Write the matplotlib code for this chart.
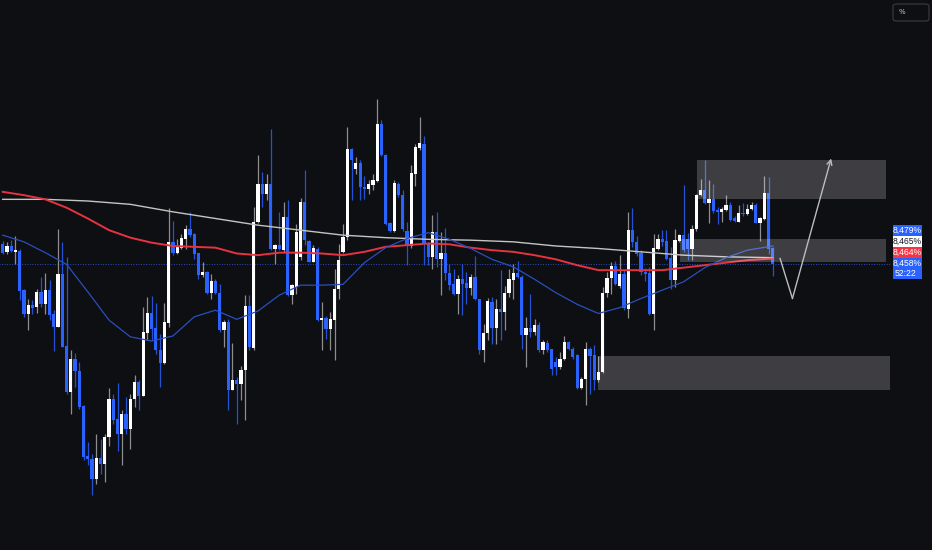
import matplotlib
matplotlib.use("Agg")
import matplotlib.pyplot as plt
from matplotlib.patches import Rectangle, FancyBboxPatch
import numpy as np

W, H = 932, 550

# candles, oldest first (yield in %)
opens = [8.482, 8.472, 8.479, 8.472, 8.473, 8.426, 8.397, 8.408, 8.406, 8.424,
         8.409, 8.426, 8.397, 8.382, 8.445, 8.359, 8.304, 8.343, 8.329, 8.287,
         8.227, 8.224, 8.199, 8.225, 8.218, 8.250, 8.296, 8.271, 8.253, 8.277,
         8.259, 8.296, 8.316, 8.299, 8.375, 8.399, 8.380, 8.354, 8.339, 8.387,
         8.484, 8.471, 8.477, 8.488, 8.500, 8.494, 8.471, 8.444, 8.448, 8.423,
         8.437, 8.423, 8.378, 8.388, 8.306, 8.318, 8.314, 8.330, 8.407, 8.357,
         8.508, 8.553, 8.541, 8.553, 8.475, 8.480, 8.474, 8.514, 8.420, 8.430,
         8.466, 8.532, 8.485, 8.460, 8.476, 8.390, 8.393, 8.380, 8.390, 8.428,
         8.472, 8.490, 8.595, 8.572, 8.579, 8.550, 8.547, 8.552, 8.557, 8.626,
         8.588, 8.506, 8.497, 8.554, 8.540, 8.497, 8.479, 8.566, 8.597, 8.602,
         8.483, 8.466, 8.496, 8.463, 8.471, 8.447, 8.434, 8.422, 8.440, 8.435,
         8.429, 8.442, 8.415, 8.354, 8.375, 8.412, 8.381, 8.404, 8.400, 8.423,
         8.438, 8.447, 8.442, 8.372, 8.380, 8.376, 8.384, 8.354, 8.363, 8.355,
         8.340, 8.334, 8.344, 8.364, 8.356, 8.348, 8.309, 8.320, 8.355, 8.348,
         8.318, 8.328, 8.423, 8.441, 8.455, 8.431, 8.445, 8.404, 8.498, 8.484,
         8.470, 8.448, 8.447, 8.398, 8.476, 8.487, 8.485, 8.464, 8.438, 8.485,
         8.492, 8.488, 8.475, 8.499, 8.540, 8.546, 8.531, 8.536, 8.522, 8.520,
         8.522, 8.528, 8.512, 8.508, 8.519, 8.517, 8.523, 8.528, 8.507, 8.512,
         8.543, 8.476]
highs = [8.485, 8.484, 8.486, 8.491, 8.475, 8.428, 8.416, 8.414, 8.427, 8.442,
         8.447, 8.438, 8.402, 8.500, 8.484, 8.466, 8.354, 8.351, 8.340, 8.288,
         8.244, 8.230, 8.254, 8.248, 8.254, 8.309, 8.301, 8.315, 8.282, 8.298,
         8.302, 8.324, 8.318, 8.406, 8.418, 8.419, 8.411, 8.374, 8.411, 8.525,
         8.509, 8.488, 8.494, 8.504, 8.520, 8.495, 8.471, 8.460, 8.449, 8.446,
         8.439, 8.434, 8.390, 8.392, 8.363, 8.322, 8.335, 8.420, 8.420, 8.526,
         8.588, 8.568, 8.565, 8.620, 8.481, 8.520, 8.532, 8.534, 8.433, 8.506,
         8.537, 8.570, 8.486, 8.480, 8.478, 8.412, 8.395, 8.400, 8.452, 8.482,
         8.506, 8.622, 8.597, 8.586, 8.582, 8.563, 8.558, 8.566, 8.656, 8.630,
         8.589, 8.508, 8.558, 8.556, 8.546, 8.508, 8.576, 8.602, 8.634, 8.611,
         8.484, 8.516, 8.520, 8.496, 8.501, 8.458, 8.452, 8.444, 8.458, 8.448,
         8.446, 8.467, 8.416, 8.386, 8.417, 8.418, 8.416, 8.450, 8.431, 8.452,
         8.458, 8.461, 8.444, 8.394, 8.422, 8.392, 8.388, 8.366, 8.366, 8.356,
         8.346, 8.352, 8.371, 8.365, 8.358, 8.350, 8.322, 8.364, 8.358, 8.360,
         8.347, 8.430, 8.448, 8.460, 8.461, 8.468, 8.450, 8.520, 8.525, 8.491,
         8.474, 8.453, 8.454, 8.494, 8.494, 8.498, 8.498, 8.478, 8.500, 8.494,
         8.552, 8.495, 8.504, 8.542, 8.560, 8.582, 8.558, 8.554, 8.526, 8.526,
         8.540, 8.532, 8.515, 8.528, 8.531, 8.530, 8.532, 8.531, 8.514, 8.563,
         8.562, 8.478]
lows = [8.470, 8.470, 8.472, 8.457, 8.414, 8.394, 8.378, 8.398, 8.399, 8.406,
        8.397, 8.390, 8.353, 8.382, 8.358, 8.302, 8.278, 8.310, 8.284, 8.222,
        8.216, 8.180, 8.194, 8.206, 8.196, 8.239, 8.265, 8.233, 8.216, 8.254,
        8.236, 8.286, 8.282, 8.299, 8.366, 8.366, 8.350, 8.310, 8.338, 8.382,
        8.468, 8.470, 8.475, 8.476, 8.490, 8.464, 8.439, 8.442, 8.422, 8.416,
        8.422, 8.376, 8.358, 8.282, 8.306, 8.266, 8.294, 8.270, 8.354, 8.354,
        8.507, 8.526, 8.534, 8.474, 8.458, 8.474, 8.472, 8.419, 8.410, 8.422,
        8.462, 8.480, 8.460, 8.460, 8.389, 8.354, 8.368, 8.354, 8.342, 8.416,
        8.471, 8.486, 8.534, 8.566, 8.534, 8.536, 8.542, 8.546, 8.556, 8.587,
        8.504, 8.496, 8.496, 8.538, 8.497, 8.456, 8.477, 8.551, 8.594, 8.456,
        8.456, 8.451, 8.454, 8.420, 8.438, 8.426, 8.420, 8.398, 8.396, 8.410,
        8.420, 8.414, 8.350, 8.340, 8.366, 8.362, 8.362, 8.366, 8.378, 8.418,
        8.416, 8.441, 8.356, 8.334, 8.370, 8.372, 8.352, 8.350, 8.352, 8.324,
        8.324, 8.332, 8.342, 8.354, 8.344, 8.308, 8.308, 8.288, 8.302, 8.306,
        8.316, 8.327, 8.418, 8.422, 8.432, 8.429, 8.402, 8.393, 8.478, 8.467,
        8.444, 8.437, 8.396, 8.378, 8.474, 8.479, 8.462, 8.428, 8.430, 8.484,
        8.472, 8.462, 8.462, 8.497, 8.539, 8.529, 8.507, 8.519, 8.506, 8.508,
        8.521, 8.509, 8.508, 8.508, 8.515, 8.516, 8.522, 8.507, 8.485, 8.510,
        8.470, 8.443]
closes = [8.471, 8.479, 8.473, 8.474, 8.425, 8.397, 8.408, 8.405, 8.424, 8.410,
          8.426, 8.396, 8.382, 8.445, 8.358, 8.304, 8.343, 8.329, 8.286, 8.226,
          8.224, 8.199, 8.225, 8.218, 8.250, 8.296, 8.270, 8.253, 8.277, 8.259,
          8.296, 8.316, 8.299, 8.376, 8.399, 8.380, 8.354, 8.339, 8.388, 8.484,
          8.471, 8.479, 8.489, 8.500, 8.492, 8.470, 8.444, 8.448, 8.423, 8.437,
          8.423, 8.378, 8.388, 8.306, 8.318, 8.314, 8.330, 8.407, 8.358, 8.508,
          8.554, 8.541, 8.553, 8.475, 8.480, 8.475, 8.514, 8.420, 8.432, 8.496,
          8.532, 8.486, 8.460, 8.476, 8.390, 8.393, 8.380, 8.391, 8.428, 8.462,
          8.490, 8.595, 8.582, 8.579, 8.550, 8.547, 8.553, 8.558, 8.626, 8.588,
          8.506, 8.497, 8.554, 8.540, 8.499, 8.479, 8.566, 8.598, 8.602, 8.482,
          8.466, 8.496, 8.463, 8.471, 8.447, 8.432, 8.422, 8.440, 8.434, 8.429,
          8.442, 8.415, 8.354, 8.375, 8.413, 8.381, 8.404, 8.400, 8.423, 8.439,
          8.447, 8.442, 8.372, 8.380, 8.376, 8.384, 8.354, 8.364, 8.354, 8.332,
          8.334, 8.344, 8.364, 8.356, 8.346, 8.309, 8.320, 8.355, 8.347, 8.318,
          8.328, 8.423, 8.441, 8.455, 8.434, 8.445, 8.405, 8.498, 8.484, 8.469,
          8.448, 8.446, 8.398, 8.476, 8.488, 8.484, 8.464, 8.438, 8.486, 8.492,
          8.474, 8.475, 8.499, 8.540, 8.546, 8.531, 8.536, 8.521, 8.520, 8.523,
          8.528, 8.510, 8.509, 8.519, 8.517, 8.524, 8.528, 8.507, 8.512, 8.543,
          8.476, 8.458]

ma_fast_x = [0, 5, 10, 15, 20, 25, 30, 35, 40, 45, 50, 55, 60, 65, 70, 75, 80, 85, 90,
             95, 100, 105, 110, 115, 120, 125, 130, 135, 140, 145, 150, 155, 160, 165,
             170, 175, 181]
ma_fast = [8.492, 8.484, 8.471, 8.457, 8.424, 8.390, 8.370, 8.365, 8.371, 8.394,
           8.402, 8.391, 8.401, 8.420, 8.432, 8.432, 8.433, 8.459, 8.477, 8.488,
           8.495, 8.487, 8.476, 8.463, 8.454, 8.439, 8.423, 8.409, 8.398, 8.405,
           8.416, 8.426, 8.436, 8.453, 8.465, 8.474, 8.479]
ma_mid_x = ma_fast_x
ma_mid = [8.544, 8.540, 8.535, 8.525, 8.512, 8.498, 8.489, 8.483, 8.479, 8.478,
          8.477, 8.470, 8.468, 8.471, 8.471, 8.470, 8.468, 8.472, 8.478, 8.480,
          8.482, 8.481, 8.477, 8.474, 8.472, 8.468, 8.463, 8.456, 8.450, 8.450,
          8.450, 8.450, 8.453, 8.456, 8.459, 8.462, 8.464]
ma_slow_x = [0, 10, 20, 30, 40, 50, 60, 70, 80, 90, 100, 110, 120, 130, 140, 150, 160,
             170, 181]
ma_slow = [8.535, 8.535, 8.533, 8.529, 8.520, 8.512, 8.504, 8.498, 8.492, 8.489,
           8.487, 8.486, 8.484, 8.479, 8.476, 8.472, 8.468, 8.466, 8.465]

# shaded zones, in candle units and yield
zone_left = [163.2, 159.2, 139.9]
zone_right = [207.6, 207.6, 208.5]
zone_low = [8.535, 8.460, 8.306]
zone_high = [8.582, 8.487, 8.347]

# projected path
path_x = [182.7, 185.6, 194.7]
path_y = [8.464, 8.416, 8.584]

countdown = "52:22"

BG = '#0e0f13'
UP = '#ffffff'
DOWN = '#2962ff'

fig = plt.figure(figsize=(W / 100, H / 100), dpi=100, facecolor=BG)
ax = fig.add_axes([0, 0, 1, 1])
ax.set_facecolor(BG)
ax.set_xlim(-0.635, 218.4)
ax.set_ylim(8.1142, 8.7742)
ax.axis('off')

o = np.array(opens)
c = np.array(closes)
h = np.maximum(np.array(highs), np.maximum(o, c))
l = np.minimum(np.array(lows), np.minimum(o, c))
idx = np.arange(len(o))
up = c >= o
lo = np.minimum(o, c)
ht = np.maximum(np.abs(c - o), 0.0013)

ax.vlines(idx[up], l[up], h[up], color='#8e8e8e', lw=0.9, zorder=2)
ax.vlines(idx[~up], l[~up], h[~up], color='#2452d6', lw=0.9, zorder=2)
ax.bar(idx[up], ht[up], bottom=lo[up], width=0.76, color=UP, linewidth=0, zorder=3)
ax.bar(idx[~up], ht[~up], bottom=lo[~up], width=0.76, color=DOWN, linewidth=0, zorder=3)

ax.plot(ma_slow_x, ma_slow, color='#c4c4c4', lw=1.0, zorder=4)
ax.plot(ma_mid_x, ma_mid, color='#e53340', lw=1.4, zorder=4)
ax.plot(ma_fast_x, ma_fast, color='#2850bd', lw=0.9, zorder=4)

# last price line
ax.hlines(closes[-1], -1, 208.5, color='#2a4fb8', lw=0.7, linestyle=(0, (1, 1.6)), zorder=1)

for x0, x1, y0, y1 in zip(zone_left, zone_right, zone_low, zone_high):
    ax.add_patch(Rectangle((x0, y0), x1 - x0, y1 - y0, facecolor='#ffffff',
                           alpha=0.2, edgecolor='none', zorder=5))

ax.plot(path_x[:2], path_y[:2], color='#bdbdbd', lw=1.0, zorder=6)
ax.annotate('', xy=(path_x[2], path_y[2]), xytext=(path_x[1], path_y[1]),
            arrowprops=dict(arrowstyle='->', color='#bdbdbd', lw=1.0,
                            mutation_scale=9, shrinkA=0, shrinkB=0), zorder=6)


def fr(px, py):
    return px / W, 1 - py / H


def fmt(v):
    return f"{v:.3f}".replace('.', ',') + '%'


lab_font = dict(family=['Liberation Sans', 'DejaVu Sans'], fontsize=6.2,
                ha='center', va='center', transform=ax.transAxes, zorder=11)
labels = [(ma_fast[-1], DOWN, 'white', 224.5, 235.5),
          (ma_slow[-1], '#ffffff', '#131722', 235.5, 246.5),
          (ma_mid[-1], '#f23645', 'white', 246.5, 257.5)]
for val, bg, fg, top, bot in labels:
    x0, y0 = fr(892.5, bot)
    ax.add_patch(Rectangle((x0, y0), 29.5 / W, (bot - top) / H, transform=ax.transAxes,
                           facecolor=bg, edgecolor='none', zorder=10, clip_on=False))
    ax.text(*fr(907.3, (top + bot) / 2 + 0.3), fmt(val), color=fg, **lab_font)

x0, y0 = fr(892.5, 278.5)
ax.add_patch(Rectangle((x0, y0), 29.5 / W, 21 / H, transform=ax.transAxes,
                       facecolor=DOWN, edgecolor='none', zorder=10, clip_on=False))
ax.text(*fr(907.3, 263.3), fmt(closes[-1]), color='white', **lab_font)
ax.text(*fr(906.0, 273.0), countdown, color='white', **lab_font)

# unit button top right
bx, by = fr(893, 21)
ax.add_patch(FancyBboxPatch((bx, by), 36 / W, 17 / H, transform=ax.transAxes,
                            boxstyle='round,pad=0,rounding_size=0.004',
                            facecolor='none', edgecolor='#3a3d45', lw=0.8,
                            zorder=10, clip_on=False))
ax.text(*fr(901.5, 12.3), '%', color='#c8c8c8', family='DejaVu Sans', fontsize=5,
        ha='center', va='center', transform=ax.transAxes, zorder=11)

fig.savefig('out.png', dpi=100, facecolor=BG)
